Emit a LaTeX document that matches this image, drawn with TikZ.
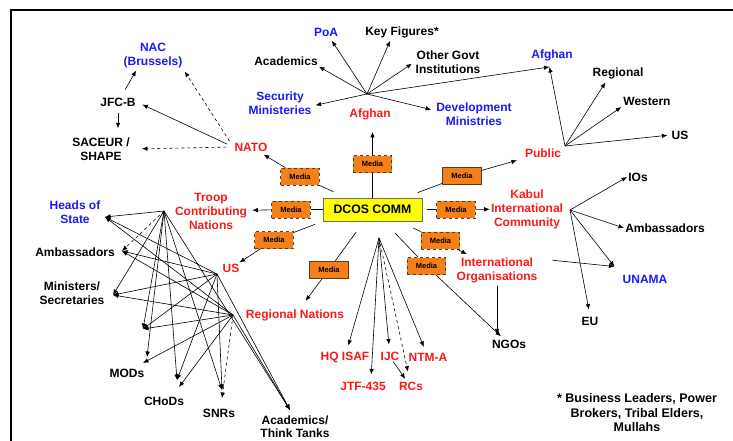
\documentclass[tikz,border=0pt]{standalone}
\usepackage{fontspec}
\setmainfont{Liberation Sans}
\usetikzlibrary{arrows.meta}
\definecolor{lblred}{RGB}{250,25,25}
\definecolor{lblblue}{RGB}{25,25,245}
\definecolor{mediaorange}{RGB}{245,128,25}
\definecolor{mediaedge}{RGB}{85,60,35}
\definecolor{dcosyellow}{RGB}{255,255,0}
\definecolor{dcosedge}{RGB}{110,110,90}

\begin{document}
\begin{tikzpicture}[x=1pt,y=-1pt,line width=0.6pt]
    \tikzstyle{every node}=[font=\bfseries\fontsize{12}{14}\selectfont,align=center,inner sep=1pt]
    \tikzstyle{redlbl}=[text=lblred]
    \tikzstyle{bluelbl}=[text=lblblue]
    \tikzstyle{tightlbl}=[font=\bfseries\fontsize{12}{13}\selectfont]
    \tikzstyle{notetext}=[font=\bfseries\fontsize{12.5}{14.5}\selectfont]
    \tikzstyle{media}=[draw=mediaedge,dashed,fill=mediaorange,minimum width=38.5pt,minimum height=17pt,inner sep=0pt,font=\bfseries\fontsize{7.5}{9}\selectfont]
    \tikzstyle{mediasolid}=[media,solid]
    \tikzstyle{dcosbox}=[draw=dcosedge,line width=1pt,fill=dcosyellow,minimum width=99pt,minimum height=23pt,inner sep=0pt,font=\bfseries\fontsize{12.3}{14}\selectfont]
    \tikzstyle{arr}=[-{Latex[length=5.5pt,width=4.5pt]}]
    \useasboundingbox (0,0) rectangle (733,441);
    \draw[line width=1.5pt] (11,441) -- (11,10) -- (733,10);

    \node[dcosbox] (dcos) at (372.5,209.5) {DCOS COMM};
    \node[media] (m-afg) at (372.5,164) {Media};
    \node[media] (m-nato) at (300,176.5) {Media};
    \node[mediasolid] (m-pub) at (462,176) {Media};
    \node[media] (m-tcn) at (291,209.5) {Media};
    \node[media] (m-kic) at (456,209.5) {Media};
    \node[media] (m-us) at (274,240) {Media};
    \node[media] (m-io) at (440.5,240.5) {Media};
    \node[media] (m-ngo) at (426.5,266) {Media};
    \node[mediasolid] (m-reg) at (329,269.5) {Media};

    \node[bluelbl] (nac) at (153,56) {NAC\\(Brussels)};
    \node (jfcb) at (118,102) {JFC-B};
    \node (saceur) at (101,149) {SACEUR /\\SHAPE};
    \node[redlbl] (nato) at (251,147) {NATO};
    \node[bluelbl] (poa) at (326,32) {PoA};
    \node (keyfig) at (402,32) {Key Figures*};
    \node (acadafg) at (286,61) {Academics};
    \node (ogi) at (448,62) {Other Govt\\Institutions};
    \node[bluelbl] (secmin) at (280,103) {Security\\Ministeries};
    \node[redlbl] (afg) at (370,114) {Afghan};
    \node[bluelbl] (devmin) at (474,114) {Development\\Ministries};
    \node[bluelbl] (afgpub) at (552,55) {Afghan};
    \node (regional) at (618,73) {Regional};
    \node (western) at (647,101) {Western};
    \node (uspub) at (680,135) {US};
    \node[redlbl] (pub) at (543,153) {Public};
    \node[redlbl] (tcn) at (211,211) {Troop\\Contributing\\Nations};
    \node[redlbl] (kic) at (527,209) {Kabul\\International\\Community};
    \node (ios) at (638,177) {IOs};
    \node (ambkic) at (665,228) {Ambassadors};
    \node[redlbl] (us) at (231,268) {US};
    \node[redlbl] (io) at (497,270) {International\\Organisations};
    \node[bluelbl] (unama) at (645,279) {UNAMA};
    \node[redlbl] (reg) at (295,315) {Regional Nations};
    \node (eu) at (590,321) {EU};
    \node (ngo) at (509,344) {NGOs};
    \node[redlbl] (hqisaf) at (345,357) {HQ ISAF};
    \node[redlbl] (ijc) at (390,356) {IJC};
    \node[redlbl] (ntma) at (428,357) {NTM-A};
    \node[redlbl] (jtf) at (363,386) {JTF-435};
    \node[redlbl] (rcs) at (411,386) {RCs};
    \node[bluelbl] (hos) at (75,212) {Heads of\\State};
    \node (amb) at (75,252) {Ambassadors};
    \node (mins) at (72,293) {Ministers/\\Secretaries};
    \node (mods) at (127,373) {MODs};
    \node (chods) at (164,401) {CHoDs};
    \node (snrs) at (219,413) {SNRs};
    \node[tightlbl] (thinkt) at (295,427) {Academics/\\Think Tanks};
    \node[notetext] (note) at (637,413) {* Business Leaders, Power\\Brokers, Tribal Elders,\\Mullahs};

    \draw[arr,shorten <=8pt,shorten >=1pt] (jfcb) -- (nac.220);
    \draw[arr,shorten <=5pt,shorten >=8pt] (jfcb.south) -- (jfcb.south |- saceur.north);
    \draw[arr,shorten <=7pt,shorten >=6pt] (nato.west) -- (jfcb.east);
    \draw[arr,dashed,shorten <=7pt,shorten >=2pt] (nato.west) -- (nac.south east);
    \draw[arr,dashed,shorten <=7pt,shorten >=11pt] (nato.west) -- (saceur.east);

    \draw[shorten <=14pt] (dcos) -- (m-nato);
    \draw[arr,shorten >=4pt] (m-nato) -- (nato);
    \draw (dcos) -- (m-afg);
    \draw[arr,shorten >=11pt] (m-afg.north) -- (m-afg.north |- afg.south);
    \draw[shorten <=14pt] (dcos) -- (m-pub);
    \draw[arr,shorten >=7pt] (m-pub) -- (pub);
    \draw (dcos) -- (m-tcn);
    \draw[arr,shorten >=4pt] (m-tcn) -- (tcn);
    \draw[shorten <=4pt] (dcos) -- (m-kic);
    \draw[arr] (m-kic) -- (kic);
    \draw[shorten <=8pt] (dcos.south west) -- (m-us);
    \draw[arr] (m-us) -- (us);
    \draw[shorten <=13pt] (dcos) -- (m-reg);
    \draw[arr,shorten >=9pt] (m-reg) -- (reg);
    \draw[shorten <=16pt] (dcos) -- (m-io);
    \draw[arr,shorten >=4pt] (m-io) -- (io);
    \draw[shorten <=16pt] (dcos) -- (m-ngo);
    \draw[arr,shorten >=3pt] (m-ngo) -- (ngo);
    \draw[arr,shorten <=2pt,shorten >=4pt] (io.south) -- (io.south |- ngo.north);

    \coordinate (fan) at (379,238);
    \draw[arr,shorten >=5pt] (fan) -- (hqisaf);
    \draw[arr,shorten >=6pt] (fan) -- (jtf.35);
    \draw[arr,shorten >=6pt] (fan) -- (ijc);
    \draw[arr,dashed,shorten >=9pt] (fan) -- (rcs);
    \draw[arr,shorten >=5pt] (fan) -- (ntma);
    \draw[arr,shorten >=2pt] (ijc.-60) -- (rcs.130);

    \coordinate (afghub) at (367,94);
    \coordinate (afgin) at ([yshift=-5pt]afgpub.250);
    \draw[arr,shorten >=4pt] (afghub) -- (poa);
    \draw[arr,shorten >=2pt] (afghub) -- (keyfig.212);
    \draw[arr] (afghub) -- (acadafg.south east);
    \draw[arr,shorten >=3pt] (afghub) -- (ogi.west);
    \draw[arr,shorten >=3pt] (afghub) -- (secmin.-5);
    \draw[arr,shorten >=4pt] (afghub) -- (devmin.175);
    \draw[arr] (afghub) -- (afgin);

    \coordinate (pubhub) at (565,146);
    \draw[arr] (pubhub) -- (afgin);
    \draw[arr,shorten >=3pt] (pubhub) -- (regional.212);
    \draw[arr,shorten >=1pt] (pubhub) -- (western.south west);
    \draw[arr,shorten >=3pt] (pubhub) -- (uspub.west);

    \coordinate (kichub) at (570,210);
    \coordinate (unamain) at ([shift={(-7,-7)}]unama.north west);
    \draw[arr] (kichub) -- (ios.west);
    \draw[arr] (kichub) -- (ambkic.west);
    \draw[arr] (kichub) -- (unamain);
    \draw[arr,shorten >=6pt] (kichub) -- (eu.north);
    \draw[arr,shorten <=14pt] (io.15) -- (unamain);

    \coordinate (tcnhub) at (164,211);
    \coordinate (ushub) at (217,274);
    \coordinate (reghub) at (233,315);
    \coordinate (hosin) at (105,217);
    \coordinate (ambin) at (122,251);
    \coordinate (minin) at (113,295);
    \coordinate (modin1) at (143,329);
    \coordinate (modin2) at (147,357);
    \coordinate (modin3) at (143,363);
    \coordinate (chodin1) at (177,380);
    \coordinate (chodin2) at (179,387);
    \coordinate (snrin1) at (222,390);
    \coordinate (snrin2) at (222,398);
    \coordinate (acadin) at (290,410);
    \path (tcnhub) edge[arr] (hosin) edge[arr,dashed] (ambin) edge[arr] (minin)
      edge[arr] (modin1) edge[arr] (modin2) edge[arr] (chodin1)
      edge[arr] (snrin1) edge[arr] (acadin);
    \path (ushub) edge[arr] (hosin) edge[arr] (ambin) edge[arr] (minin)
      edge[arr] (modin1) edge[arr] (chodin1) edge[arr] (snrin1)
      edge[arr] (acadin);
    \path (reghub) edge[arr] (hosin) edge[arr] (ambin) edge[arr] (minin)
      edge[arr] (modin1) edge[arr] (modin3) edge[arr] (chodin2)
      edge[arr,dashed] (snrin2) edge[arr] (acadin);
\end{tikzpicture}
\end{document}
